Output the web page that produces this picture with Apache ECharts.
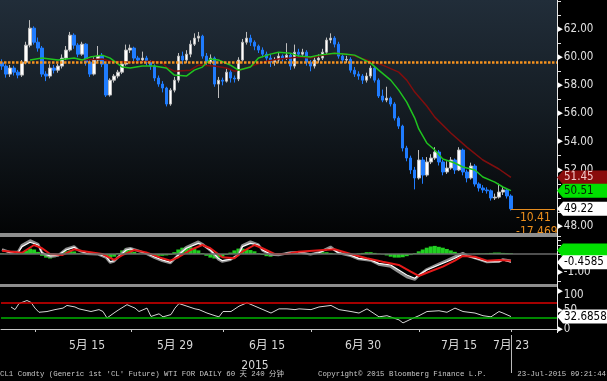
<!DOCTYPE html>
<html><head><meta charset="utf-8">
<script src="https://cdn.jsdelivr.net/npm/echarts@6/dist/echarts.min.js"></script>
<style>html,body{margin:0;padding:0;background:#000;}#c{width:607px;height:381px;}</style>
</head><body><div id="c"></div>
<script>
// ---- data (240-minute bars, CL1 Comdty) ----
const opens = [59.60, 59.37, 58.80, 59.23, 58.94, 58.73, 59.65, 60.86, 62.07, 61.07,
 60.65, 58.80, 58.66, 59.23, 59.08, 59.37, 59.94, 60.51, 61.57, 60.86,
 60.22, 60.93, 59.65, 58.80, 59.80, 60.08, 59.51, 57.31, 58.37, 58.66,
 58.94, 59.51, 60.51, 60.65, 59.94, 59.80, 59.94, 59.65, 59.37, 58.52,
 58.09, 57.81, 56.67, 57.66, 58.37, 60.08, 59.80, 60.22, 60.93, 61.36,
 61.50, 60.08, 59.65, 59.94, 58.09, 58.37, 58.30, 58.94, 58.52, 58.45,
 59.80, 61.07, 61.36, 61.07, 60.79, 60.51, 60.22, 59.94, 59.65, 59.80,
 60.08, 59.94, 60.15, 59.37, 60.36, 60.22, 60.36, 59.65, 59.37, 59.80,
 59.94, 60.36, 61.22, 61.36, 60.93, 60.08, 59.80, 59.85, 59.08, 58.80,
 58.66, 58.37, 58.66, 59.23, 58.37, 57.24, 56.95, 57.09, 56.67, 55.67,
 55.10, 53.54, 52.83, 51.98, 51.41, 52.69, 51.62, 52.55, 52.83, 53.26,
 52.55, 51.84, 52.12, 52.69, 51.98, 53.40, 51.84, 51.41, 52.26, 50.98,
 50.70, 50.56, 50.50, 49.99, 50.05, 50.41, 50.56, 50.13];
const closes = [59.37, 58.80, 59.23, 58.94, 58.73, 59.65, 60.86, 62.07, 61.07, 60.65,
 58.80, 58.66, 59.23, 59.08, 59.37, 59.94, 60.51, 61.57, 60.86, 60.22,
 60.93, 59.65, 58.80, 59.80, 60.08, 59.51, 57.31, 58.37, 58.66, 58.94,
 59.51, 60.51, 60.65, 59.94, 59.80, 59.94, 59.65, 59.37, 58.52, 58.09,
 57.81, 56.67, 57.66, 58.37, 60.08, 59.80, 60.22, 60.93, 61.36, 61.50,
 60.08, 59.65, 59.94, 58.09, 58.37, 58.30, 58.94, 58.52, 58.45, 59.80,
 61.07, 61.36, 61.07, 60.79, 60.51, 60.22, 59.94, 59.65, 59.80, 60.08,
 59.94, 60.15, 59.37, 60.36, 60.22, 60.36, 59.65, 59.37, 59.80, 59.94,
 60.36, 61.22, 61.36, 60.93, 60.08, 59.80, 59.85, 59.08, 58.80, 58.66,
 58.37, 58.66, 59.23, 58.37, 57.24, 56.95, 57.09, 56.67, 55.67, 55.10,
 53.54, 52.83, 51.98, 51.41, 52.69, 51.62, 52.55, 52.83, 53.26, 52.55,
 51.84, 52.12, 52.69, 51.98, 53.40, 51.84, 51.41, 52.26, 50.98, 50.70,
 50.56, 50.50, 49.99, 50.05, 50.41, 50.56, 50.13, 49.22];
const highs = [59.85, 59.50, 59.45, 59.40, 59.10, 59.80, 61.10, 62.64, 62.20, 61.40,
 60.80, 59.00, 59.50, 59.45, 59.55, 60.20, 60.80, 61.80, 61.70, 61.00,
 61.10, 61.00, 59.80, 60.00, 60.80, 60.30, 59.60, 58.50, 58.80, 59.10,
 59.70, 60.90, 60.90, 60.75, 60.10, 60.40, 60.10, 59.80, 59.50, 58.70,
 58.30, 57.90, 57.80, 58.60, 60.30, 60.40, 60.50, 61.20, 61.70, 61.80,
 61.60, 60.30, 60.20, 60.05, 58.60, 58.55, 59.20, 59.10, 58.70, 60.00,
 61.30, 61.80, 61.60, 61.20, 60.90, 60.70, 60.40, 60.20, 60.00, 60.30,
 60.20, 61.00, 60.30, 60.90, 60.60, 60.60, 60.50, 59.80, 60.00, 60.20,
 60.60, 61.40, 61.70, 61.50, 61.10, 60.30, 60.10, 60.00, 59.30, 59.00,
 58.80, 58.90, 59.40, 59.35, 58.50, 57.70, 57.90, 57.20, 56.80, 55.80,
 55.20, 53.70, 53.00, 52.20, 53.40, 52.90, 52.90, 53.10, 53.60, 53.40,
 52.70, 52.60, 52.90, 52.80, 53.60, 53.50, 52.00, 52.50, 52.40, 51.10,
 50.90, 50.75, 50.60, 50.30, 51.00, 50.80, 50.70, 50.25];
const lows = [59.10, 58.55, 58.60, 58.70, 58.50, 58.60, 59.50, 60.70, 60.90, 60.40,
 58.60, 58.30, 58.50, 58.85, 58.90, 59.20, 59.80, 60.40, 60.60, 60.00,
 60.10, 59.40, 58.60, 58.70, 59.60, 59.30, 57.17, 57.20, 58.20, 58.50,
 58.80, 59.40, 60.30, 59.70, 59.60, 59.60, 59.40, 59.10, 58.30, 57.90,
 57.50, 56.50, 56.55, 57.50, 58.20, 59.50, 59.60, 60.00, 60.80, 61.10,
 59.90, 59.40, 59.50, 57.90, 57.10, 58.00, 58.20, 58.20, 58.20, 58.30,
 59.70, 60.90, 60.80, 60.50, 60.30, 60.00, 59.70, 59.30, 59.40, 59.60,
 59.70, 59.80, 59.10, 59.20, 60.00, 60.10, 59.40, 59.00, 59.20, 59.60,
 59.80, 60.20, 61.00, 60.70, 59.90, 59.60, 59.60, 58.90, 58.60, 58.40,
 58.10, 58.20, 58.50, 58.20, 57.10, 56.80, 56.80, 56.50, 55.50, 54.90,
 53.30, 52.60, 51.70, 50.60, 51.30, 51.00, 51.50, 52.40, 52.70, 52.30,
 51.60, 51.70, 52.00, 51.70, 51.90, 51.60, 51.10, 51.30, 50.80, 50.45,
 50.35, 50.30, 49.80, 49.85, 49.95, 50.20, 49.95, 49.10];
// moving averages: [bar, value]
const maGreen = [[7,59.80],[10,59.94],[14,59.80],[18,59.94],[20,59.80],[22,60.01],[25,60.15],[27,59.94],[30,59.30],[32,59.23],
 [35,59.37],[38,59.37],[41,59.23],[43,58.73],[46,58.66],[48,59.08],[50,59.30],[52,59.87],[54,59.80],[57,59.44],
 [59,59.08],[62,59.30],[64,59.94],[67,60.22],[69,60.36],[72,60.29],[74,60.08],[77,60.01],[79,60.15],[83,60.29],
 [86,60.22],[88,60.15],[90,59.87],[92,59.58],[94,59.08],[97,58.37],[99,57.66],[101,56.81],[103,55.67],[104,54.90],
 [106,53.90],[108,53.40],[110,52.76],[113,52.48],[115,52.19],[118,51.98],[120,51.48],[123,51.12],[125,50.77],[127,50.51]];
const maRed = [[20,59.80],[25,59.87],[27,59.72],[32,59.65],[37,59.72],[40,59.65],[41,59.30],[43,59.01],[47,59.08],[49,59.44],
 [53,59.37],[56,59.23],[58,59.01],[61,59.23],[63,59.44],[66,59.72],[69,59.87],[72,59.94],[74,60.01],[77,59.94],
 [79,60.08],[83,60.29],[86,60.22],[88,60.08],[91,59.80],[95,59.44],[99,58.94],[101,58.37],[103,57.52],[106,56.53],
 [108,55.74],[112,54.61],[116,53.61],[120,52.69],[124,52.05],[127,51.45]];
// MACD panel
const macdWhite = [[0,0.22],[2,0.07],[4,0.07],[5,0.41],[7,0.65],[9,0.50],[10,0.06],[12,-0.11],[14,-0.07],[16,0.22],
 [18,0.37],[19,0.22],[21,0.04],[24,0],[26,-0.15],[27,-0.43],[28,-0.37],[31,0.22],[32,0.28],[34,0.18],
 [36,0.04],[38,-0.15],[40,-0.33],[42,-0.46],[44,-0.06],[46,0.32],[49,0.59],[50,0.50],[52,0.22],[54,-0.24],
 [55,-0.37],[57,-0.29],[59,-0.06],[60,0.41],[62,0.59],[64,0.50],[65,0.22],[67,0],[69,-0.02],[72,0.07],
 [74,0.09],[77,0],[79,0.07],[82,0.32],[84,0.07],[87,-0.06],[89,-0.24],[92,-0.33],[94,-0.52],[97,-0.61],
 [99,-0.89],[101,-1.17],[103,-1.35],[104,-1.17],[106,-0.89],[109,-0.61],[111,-0.43],[113,-0.24],[115,-0.02],[116,-0.11],
 [119,-0.29],[121,-0.43],[124,-0.43],[125,-0.33],[127,-0.46]];
const macdGray = [[0,0.25],[2,0.10],[4,0.12],[5,0.50],[7,0.75],[9,0.55],[10,0.05],[12,-0.15],[14,-0.08],[16,0.28],
 [18,0.42],[19,0.22],[21,0.02],[24,-0.02],[26,-0.20],[27,-0.48],[28,-0.40],[31,0.28],[32,0.32],[34,0.18],
 [36,0.02],[38,-0.20],[40,-0.38],[42,-0.50],[44,-0.05],[46,0.38],[49,0.68],[50,0.55],[52,0.20],[54,-0.30],
 [55,-0.42],[57,-0.32],[59,-0.04],[60,0.48],[62,0.68],[64,0.52],[65,0.20],[67,-0.03],[69,-0.05],[72,0.08],
 [74,0.10],[77,-0.02],[79,0.08],[82,0.40],[84,0.06],[87,-0.10],[89,-0.28],[92,-0.36],[94,-0.58],[97,-0.70],
 [99,-1.00],[101,-1.28],[103,-1.42],[104,-1.20],[106,-0.85],[109,-0.55],[111,-0.35],[113,-0.15],[115,0.05],[116,-0.08],
 [119,-0.30],[121,-0.45],[124,-0.42],[125,-0.30],[127,-0.38]];
const macdSignal = [[0,0.18],[5,0.07],[8,0.50],[10,0.32],[12,0],[15,-0.06],[18,0.26],[20,0.17],[25,0],[28,-0.33],
 [30,-0.06],[33,0.22],[36,0.09],[40,-0.24],[42,-0.37],[44,-0.18],[47,0.22],[50,0.50],[52,0.32],[55,-0.18],
 [58,-0.24],[60,0.13],[63,0.50],[65,0.32],[68,0],[71,0],[74,0.13],[83,0.26],[87,0],[91,-0.24],
 [95,-0.43],[99,-0.61],[102,-0.98],[104,-1.22],[106,-1.04],[110,-0.70],[113,-0.37],[115,-0.11],[118,-0.15],[121,-0.37],
 [124,-0.33],[127,-0.37]];
const macdHist = [0.04,0.02,0,0,0.02, 0.10,0.20,0.30,0.25,0.12, -0.10,-0.20,-0.25,-0.18,-0.08, 0.06,0.15,0.20,0.14,0.05,
 0.02,0,0,0,0, -0.08,-0.18,-0.25,-0.15,0.05, 0.20,0.30,0.25,0.12,0.04, 0.02,0,-0.04,-0.08,-0.10,
 -0.10,-0.08,-0.05,0.10,0.25, 0.35,0.40,0.38,0.30,0.20, 0.05,-0.10,-0.20,-0.25,-0.20, -0.15,-0.05,0.08,0.20,0.30,
 0.30,0.28,0.22,0.15,0.05, -0.05,-0.12,-0.15,-0.10,-0.04, 0,0.02,0.04,0.03,0.02, 0,0,0.02,0.05,0.08,
 0.10,0.10,0.06,0.02,0, -0.02,-0.04,-0.03,0,0.03, 0.06,0.10,0.10,0.06,0.02, -0.02,-0.08,-0.15,-0.20,-0.20,
 -0.18,-0.12,-0.06,0.05,0.15, 0.25,0.35,0.42,0.45,0.40, 0.35,0.28,0.20,0.12,0.05, 0.02,0,0,0.02,0.03,
 0.03,0.04,0.06,0.08,0.08, 0.06,0.05,0.04];
// RSI panel
const rsi = [[2,58],[3,51],[4,67],[6,75],[7,70],[8,55],[9,44],[11,46],[13,51],[15,55],
 [16,62],[18,58],[19,53],[22,46],[24,51],[25,46],[26,29],[28,44],[29,51],[31,64],
 [33,55],[34,46],[36,55],[37,33],[39,40],[40,32],[42,38],[43,55],[44,67],[46,60],
 [48,53],[49,51],[51,42],[53,35],[54,32],[55,46],[57,46],[59,60],[61,69],[63,60],
 [65,51],[67,42],[69,53],[71,53],[73,51],[74,53],[77,51],[79,58],[82,62],[84,51],
 [87,46],[89,42],[91,53],[94,32],[96,35],[99,24],[100,16],[102,26],[104,35],[106,46],
 [109,48],[111,44],[113,55],[115,46],[118,42],[120,35],[122,32],[124,46],[125,42],[127,32.69]];
const dateLabels = {21:'5月 15', 43:'5月 29', 66:'6月 15', 90:'6月 30', 114:'7月 15', 127:'7月 23'};
const dateTicks = [8, 32, 55, 77, 104, 127];
const yearLabel = {index: 63, text: '2015'};
const priceLabels = [48, 52, 54, 56, 58, 60, 62];
const refLevel = 59.65;
const lastPrice = 49.22, lastGreen = 50.51, lastRed = 51.45;
const lastMacd = -0.4585, lastMacdHist = 0.2, lastRsi = 32.6858;
const changeTexts = ['-10.41', '-17.469'];
const SLOTS = 139;

const FONT = "'DejaVu Sans Condensed','Liberation Sans Narrow','Noto Sans CJK SC',sans-serif";
const MONO = "'Liberation Mono','DejaVu Sans Mono','Noto Sans CJK SC',monospace";
const FS = 11.5;
const categories = Array.from({length: SLOTS}, (_, i) => dateLabels[i] || '');
const candles = opens.map((o, i) => [o, closes[i], lows[i], highs[i]]);
const lastIdx = closes.length - 1;

const chart = echarts.init(document.getElementById('c'), null, {renderer: 'canvas'});
const hiddenX = g => ({type: 'category', gridIndex: g, data: categories, show: false, boundaryGap: true});
const pointer = {p: {fontSize: 7, color: '#ffffff', padding: [0, 1, 0, 0]}};

chart.setOption({
  backgroundColor: '#000000',
  animation: false,
  grid: [
    {left: 0, top: 1, width: 557, height: 239},
    {left: 0, top: 236, width: 557, height: 54},
    {left: 0, top: 291, width: 557, height: 38}
  ],
  xAxis: [hiddenX(0), hiddenX(1), {
    type: 'category', gridIndex: 2, data: categories, boundaryGap: true, offset: 4,
    axisLine: {show: true, lineStyle: {color: '#c8c8c8', width: 1}},
    axisTick: {show: true, length: 3, alignWithLabel: true, interval: (i) => dateTicks.includes(i), lineStyle: {color: '#c8c8c8'}},
    axisLabel: {interval: 0, color: '#d8d8d8', fontSize: 12, fontFamily: FONT, margin: 7}
  }],
  yAxis: [
    {type: 'value', gridIndex: 0, position: 'right', min: 47, max: 64, interval: 1,
     axisLine: {show: false}, splitLine: {show: false},
     axisTick: {show: true, length: 4, lineStyle: {color: '#e0e0e0'}},
     axisLabel: {margin: 1, color: '#e0e0e0', fontSize: FS, fontFamily: FONT, rich: pointer,
       formatter: v => priceLabels.includes(v) ? '{p|▶}' + v.toFixed(2) : ''}},
    {type: 'value', gridIndex: 1, position: 'right', min: -2, max: 1, interval: 0.5,
     axisLine: {show: false}, splitLine: {show: false},
     axisTick: {show: true, length: 4, lineStyle: {color: '#e0e0e0'}},
     axisLabel: {margin: 1, color: '#e0e0e0', fontSize: FS, fontFamily: FONT, rich: pointer,
       formatter: v => v === -1 ? '{p|▶}-1.00' : ''}},
    {type: 'value', gridIndex: 2, position: 'right', min: 0, max: 100, interval: 50,
     axisLine: {show: false}, splitLine: {show: false},
     axisTick: {show: true, length: 4, lineStyle: {color: '#e0e0e0'}},
     axisLabel: {margin: 1, color: '#e0e0e0', fontSize: FS, fontFamily: FONT,
       rich: {p: pointer.p, t: {fontSize: FS, fontFamily: FONT, color: '#e0e0e0', padding: [8, 0, 0, 0]}},
       formatter: v => v === 100 ? '{p|▶}{t|100}' : '{p|▶}' + v}}
  ],
  series: [
    {type: 'candlestick', xAxisIndex: 0, yAxisIndex: 0, data: candles, barWidth: 3,
     itemStyle: {color: '#ffffff', color0: '#1f7cff', borderColor: '#bdbdbd', borderColor0: '#1f7cff', borderWidth: 1},
     markLine: {silent: true, symbol: 'none', label: {show: false}, animation: false,
       data: [
         {yAxis: refLevel, lineStyle: {color: '#f5921e', type: [2.5, 1.5], width: 2.5}},
         [{coord: [lastIdx, lastPrice], lineStyle: {color: '#e58c1f', width: 1, type: 'solid'}}, {coord: [SLOTS - 1, lastPrice]}]
       ]}},
    {type: 'line', xAxisIndex: 0, yAxisIndex: 0, data: maRed, showSymbol: false, lineStyle: {color: '#800e0e', width: 1.5}},
    {type: 'line', xAxisIndex: 0, yAxisIndex: 0, data: maGreen, showSymbol: false, lineStyle: {color: '#1fc41f', width: 1.5}},
    {type: 'bar', xAxisIndex: 1, yAxisIndex: 1, data: macdHist, barCategoryGap: '0%', itemStyle: {color: '#22d022'},
     markLine: {silent: true, symbol: 'none', label: {show: false}, data: [{yAxis: 0}], lineStyle: {color: '#6a6a6a', width: 1.5, type: 'solid'}}},
    {type: 'line', xAxisIndex: 1, yAxisIndex: 1, data: macdGray, showSymbol: false, lineStyle: {color: '#8e8e8e', width: 2.5}},
    {type: 'line', xAxisIndex: 1, yAxisIndex: 1, data: macdWhite, showSymbol: false, lineStyle: {color: '#ffffff', width: 1.2}},
    {type: 'line', xAxisIndex: 1, yAxisIndex: 1, data: macdSignal, showSymbol: false, lineStyle: {color: '#e61a1a', width: 2}},
    {type: 'line', xAxisIndex: 2, yAxisIndex: 2, data: rsi, showSymbol: false, lineStyle: {color: '#d6d6d6', width: 1},
     markLine: {silent: true, symbol: 'none', label: {show: false},
       data: [{yAxis: 70, lineStyle: {color: '#dd0000', width: 1.5, type: 'solid'}},
              {yAxis: 30, lineStyle: {color: '#00b400', width: 1.5, type: 'solid'}}]}}
  ]
});

// overlay: backgrounds, separators, value tags, texts
const py = (axis, v) => chart.convertToPixel({yAxisIndex: axis}, v);
const px = (i) => chart.convertToPixel({xAxisIndex: 2}, i);
function tag(y, text, bg, fg, z) {
  return [
    {type: 'polygon', z: z, shape: {points: [[557, y], [563, y - 7], [607, y - 7], [607, y + 7], [563, y + 7]]}, style: {fill: bg}},
    {type: 'text', z: z, x: 564, y: y, style: {text: text, fill: fg, font: FS + 'px ' + FONT, verticalAlign: 'middle'}}
  ];
}
const xl = px(lastIdx);
const xAxisY = 333;
const g = [
  {type: 'rect', z: -10, shape: {x: 0, y: 0, width: 557, height: 233},
   style: {fill: new echarts.graphic.LinearGradient(0, 0, 0, 1, [
     {offset: 0, color: '#212d39'}, {offset: 0.45, color: '#151d24'}, {offset: 1, color: '#030405'}])}},
  {type: 'text', z: 20, x: xl + 5, y: 218, style: {text: changeTexts[0], fill: '#ee8f1c', font: '12px ' + FONT, verticalAlign: 'middle'}},
  {type: 'text', z: 20, x: xl + 5, y: 232, style: {text: changeTexts[1], fill: '#ee8f1c', font: '12px ' + FONT, verticalAlign: 'middle'}},
  {type: 'rect', z: 100, shape: {x: 0, y: 233, width: 557, height: 4}, style: {fill: '#8e8e8e'}},
  {type: 'rect', z: 100, shape: {x: 0, y: 284, width: 557, height: 3}, style: {fill: '#8e8e8e'}},
  {type: 'line', z: 101, shape: {x1: 557.5, y1: 0, x2: 557.5, y2: xAxisY}, style: {stroke: '#e8e8e8', lineWidth: 1}},
  ...tag(py(0, lastRed), lastRed.toFixed(2), '#8a0c0c', '#f0c8c8', 110),
  ...tag(py(0, lastGreen), lastGreen.toFixed(2), '#00e000', '#062006', 111),
  ...tag(py(0, lastPrice), lastPrice.toFixed(2), '#ffffff', '#000000', 112),
  ...tag(py(1, lastMacdHist), '', '#00e000', '#062006', 110),
  ...tag(py(1, lastMacd), lastMacd.toString(), '#ffffff', '#000000', 112),
  ...tag(py(2, lastRsi), lastRsi.toString(), '#ffffff', '#000000', 112),
  {type: 'text', z: 20, x: px(yearLabel.index), y: 366, style: {text: yearLabel.text, fill: '#d8d8d8', font: '12px ' + FONT, align: 'center', verticalAlign: 'middle'}},
  {type: 'line', z: 20, shape: {x1: xl + 0.5, y1: xAxisY + 2, x2: xl + 0.5, y2: 373}, style: {stroke: '#bdbdbd', lineWidth: 1}},
  {type: 'text', z: 20, x: 0, y: 374, style: {text: "CL1 Comdty (Generic 1st 'CL' Future) WTI FOR DAILY 60 天 240 分钟", fill: '#c8c8c8', font: '7.4px ' + MONO, verticalAlign: 'middle'}},
  {type: 'text', z: 20, x: 318, y: 374, style: {text: 'Copyright© 2015 Bloomberg Finance L.P.', fill: '#c8c8c8', font: '7.4px ' + MONO, verticalAlign: 'middle'}},
  {type: 'text', z: 20, x: 606, y: 374, style: {text: '23-Jul-2015 09:21:44', fill: '#c8c8c8', font: '7.4px ' + MONO, align: 'right', verticalAlign: 'middle'}}
];
chart.setOption({graphic: g});
</script>
</body></html>
